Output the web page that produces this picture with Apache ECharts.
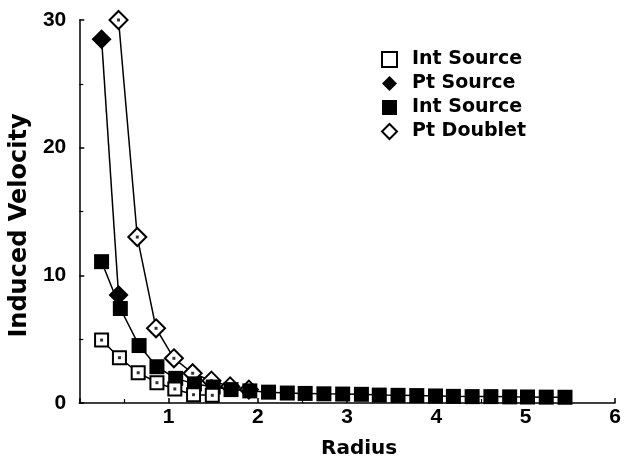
<!DOCTYPE html>
<html>
<head>
<meta charset="utf-8">
<script src="https://cdn.jsdelivr.net/npm/echarts@6/dist/echarts.min.js"></script>
<style>html,body{margin:0;padding:0;background:#fff;}#c{width:624px;height:468px;}</style>
</head>
<body>
<div id="c"></div>
<script>
// Data
var intSourceOpenX = [0.25, 0.45, 0.66, 0.87, 1.07, 1.28, 1.49];
var intSourceOpenY = [4.93, 3.55, 2.37, 1.59, 1.1, 0.65, 0.6];

var ptSourceX = [0.25, 0.44];
var ptSourceY = [28.5, 8.46];

var intSourceFilledX = [0.25, 0.46, 0.67, 0.87, 1.08, 1.29, 1.50, 1.70, 1.91, 2.12, 2.33, 2.53, 2.74, 2.95, 3.16, 3.36, 3.57, 3.78, 3.99, 4.19, 4.40, 4.61, 4.82, 5.02, 5.23, 5.44];
var intSourceFilledY = [11.07, 7.4, 4.5, 2.84, 1.93, 1.5, 1.25, 1.05, 0.95, 0.85, 0.78, 0.75, 0.72, 0.7, 0.68, 0.62, 0.6, 0.58, 0.55, 0.52, 0.5, 0.5, 0.48, 0.47, 0.46, 0.45];

var ptDoubletX = [0.44, 0.65, 0.86, 1.06, 1.27, 1.48, 1.69, 1.90];
var ptDoubletY = [30.0, 13.0, 5.85, 3.5, 2.33, 1.75, 1.3, 1.05];

var xTicks = [0, 1, 2, 3, 4, 5, 6];
var yTicks = [0, 10, 20, 30];

var names = ['Int Source', 'Pt Source', 'Int Source ', 'Pt Doublet'];

function pairs(xs, ys) { return xs.map(function (x, i) { return [x, ys[i]]; }); }

var chart = echarts.init(document.getElementById('c'), null, { renderer: 'canvas' });
var lineStyle = { color: '#000', width: 1.5 };
var tickFont = { fontFamily: 'Liberation Sans', fontWeight: 'bold', fontSize: 21, color: '#000' };

chart.setOption({
  animation: false,
  backgroundColor: '#fff',
  grid: { left: 74, right: 9, top: 20, bottom: 65 },
  xAxis: {
    type: 'value', min: xTicks[0], max: xTicks[xTicks.length - 1], interval: 1,
    axisLine: { lineStyle: { color: '#000', width: 1.5 } },
    axisTick: { inside: true, length: 5, lineStyle: { color: '#000', width: 1.5 } },
    minorTick: { show: true, splitNumber: 2, length: 4, lineStyle: { color: '#000', width: 1.2 } },
    splitLine: { show: false },
    axisLabel: Object.assign({ margin: 4, formatter: function (v) { return v === 0 ? '' : String(v); } }, tickFont),
    name: 'Radius', nameLocation: 'middle', nameGap: 36,
    nameTextStyle: { fontFamily: 'DejaVu Sans', fontWeight: 'bold', fontSize: 20, color: '#000', padding: [0, 0, 0, 24] }
  },
  yAxis: {
    type: 'value', min: yTicks[0], max: yTicks[yTicks.length - 1], interval: 10,
    axisLine: { lineStyle: { color: '#000', width: 1.5 } },
    axisTick: { inside: true, length: 5, lineStyle: { color: '#000', width: 1.5 } },
    minorTick: { show: true, splitNumber: 2, length: 4, lineStyle: { color: '#000', width: 1.2 } },
    splitLine: { show: false },
    axisLabel: Object.assign({ margin: 13 }, tickFont),
    name: 'Induced Velocity', nameLocation: 'middle', nameGap: 38,
    nameTextStyle: { fontFamily: 'DejaVu Sans', fontWeight: 'bold', fontSize: 24, color: '#000', padding: [0, 28, 0, 0] }
  },
  legend: {
    orient: 'vertical', left: 376, top: 45,
    itemWidth: 15, itemHeight: 15, itemGap: 5, symbolKeepAspect: true,
    textStyle: { fontFamily: 'DejaVu Sans', fontWeight: 'bold', fontSize: 19, lineHeight: 19, color: '#000', padding: [0, 0, 0, 10] },
    formatter: function (n) { return n.trim(); },
    data: [
      { name: names[0], icon: 'rect', itemStyle: { color: '#fff', borderColor: '#000', borderWidth: 2 } },
      { name: names[1], icon: 'diamond', itemStyle: { color: '#000', borderWidth: 0 } },
      { name: names[2], icon: 'rect', itemStyle: { color: '#000', borderWidth: 0 } },
      { name: names[3], icon: 'diamond', itemStyle: { color: '#fff', borderColor: '#000', borderWidth: 2 } }
    ]
  },
  series: [
    { name: names[3], type: 'line', data: pairs(ptDoubletX, ptDoubletY), z: 2,
      symbol: 'diamond', symbolSize: 18, showAllSymbol: true, clip: false,
      lineStyle: lineStyle, itemStyle: { color: '#fff', borderColor: '#000', borderWidth: 2 } },
    { name: 'dd', type: 'scatter', data: pairs(ptDoubletX, ptDoubletY), z: 3,
      symbol: 'rect', symbolSize: 3, itemStyle: { color: '#000' }, silent: true },
    { name: names[1], type: 'line', data: pairs(ptSourceX, ptSourceY), z: 4,
      symbol: 'diamond', symbolSize: 20, showAllSymbol: true,
      lineStyle: lineStyle, itemStyle: { color: '#000', borderWidth: 0 } },
    { name: names[2], type: 'line', data: pairs(intSourceFilledX, intSourceFilledY), z: 5,
      symbol: 'rect', symbolSize: 15, showAllSymbol: true,
      lineStyle: lineStyle, itemStyle: { color: '#000', borderWidth: 0 } },
    { name: names[0], type: 'line', data: pairs(intSourceOpenX, intSourceOpenY), z: 6,
      symbol: 'rect', symbolSize: 13, showAllSymbol: true,
      lineStyle: lineStyle, itemStyle: { color: '#fff', borderColor: '#000', borderWidth: 2 } },
    { name: 'sd', type: 'scatter', data: pairs(intSourceOpenX, intSourceOpenY), z: 7,
      symbol: 'rect', symbolSize: 3, itemStyle: { color: '#000' }, silent: true }
  ]
});
</script>
</body>
</html>
